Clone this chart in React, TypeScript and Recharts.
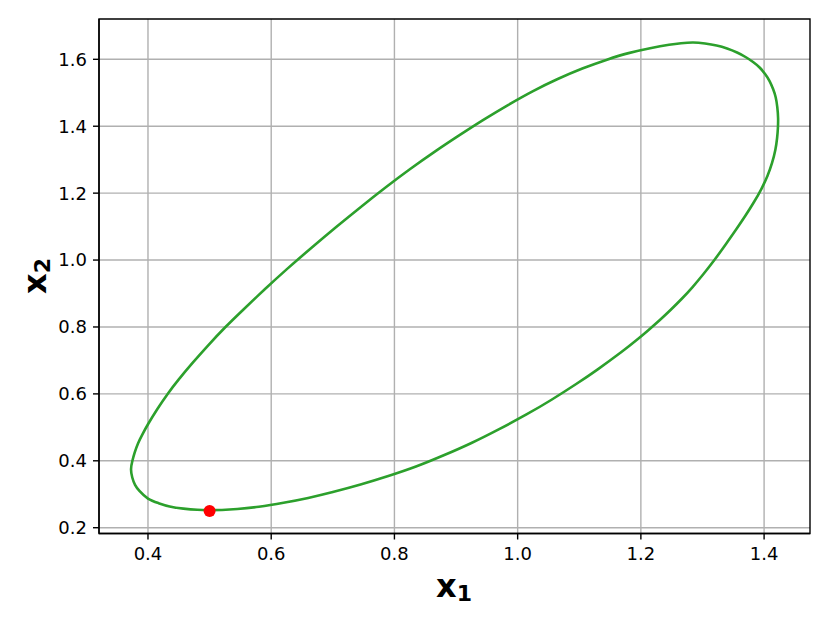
import React from "react";
import {
  ComposedChart,
  Line,
  Scatter,
  XAxis,
  YAxis,
  CartesianGrid,
  ReferenceArea,
} from "recharts";

// Closed level curve (x1, x2), counter-clockwise from the bottom
const curveX = [
  0.5, 0.52, 0.545, 0.58, 0.62, 0.66, 0.7, 0.745, 0.79, 0.835, 0.88, 0.925,
  0.97, 1.015, 1.055, 1.095, 1.13, 1.1684, 1.1921, 1.2116, 1.2308, 1.2481,
  1.266, 1.2839, 1.3016, 1.3193, 1.337, 1.354, 1.3693, 1.3836, 1.3955, 1.4054,
  1.4129, 1.4182, 1.4211, 1.4224, 1.4227, 1.4214, 1.4187, 1.4146, 1.4089,
  1.4016, 1.3927, 1.3821, 1.3699, 1.3561, 1.3399, 1.3229, 1.3042, 1.2847,
  1.2652, 1.2457, 1.215, 1.18, 1.145, 1.105, 1.065, 1.025, 0.985, 0.945, 0.905,
  0.865, 0.825, 0.785, 0.745, 0.705, 0.665, 0.625, 0.59, 0.555, 0.525, 0.497,
  0.472, 0.45, 0.4325, 0.415, 0.4, 0.391, 0.3838, 0.3785, 0.3747, 0.3725,
  0.3745, 0.379, 0.3865, 0.4, 0.417, 0.4352, 0.4575, 0.48, 0.5,
];
const curveY = [
  0.2525, 0.2531, 0.2557, 0.2627, 0.2745, 0.2889, 0.3065, 0.329, 0.3544,
  0.3828, 0.4164, 0.4533, 0.4947, 0.5393, 0.5825, 0.6295, 0.6734, 0.7251,
  0.7595, 0.7897, 0.8208, 0.8507, 0.8836, 0.9194, 0.9583, 1.0001, 1.045, 1.0898,
  1.1316, 1.1735, 1.2123, 1.2512, 1.2901, 1.3289, 1.3648, 1.3947, 1.4246,
  1.4574, 1.4873, 1.5112, 1.5351, 1.5561, 1.5755, 1.5919, 1.6069, 1.6203,
  1.6323, 1.6412, 1.6472, 1.6502, 1.6481, 1.6433, 1.633, 1.6185, 1.599, 1.5725,
  1.541, 1.505, 1.464, 1.4197, 1.3725, 1.3233, 1.2713, 1.2161, 1.1581, 1.0981,
  1.0361, 0.9721, 0.9133, 0.8524, 0.7984, 0.7438, 0.6918, 0.6434, 0.6014,
  0.5542, 0.5092, 0.479, 0.452, 0.425, 0.4, 0.375, 0.35, 0.328, 0.309, 0.287,
  0.2735, 0.2635, 0.257, 0.2535, 0.2525,
];

// Marked point
const pointX = [0.5];
const pointY = [0.25];

const xTicks = [0.4, 0.6, 0.8, 1.0, 1.2, 1.4];
const yTicks = [0.2, 0.4, 0.6, 0.8, 1.0, 1.2, 1.4, 1.6];

const xDomain: [number, number] = [0.3205, 1.4745];
const yDomain: [number, number] = [0.1827, 1.7205];

const curveData = curveX.map((x, i) => ({ x, y: curveY[i] }));
const pointData = pointX.map((x, i) => ({ x, y: pointY[i] }));

const FONT = "'DejaVu Sans', sans-serif";

const XLabel = () => (
  <text
    x={454}
    y={597}
    textAnchor="middle"
    fontFamily={FONT}
    fontWeight="bold"
    fill="#000"
  >
    <tspan fontSize={32}>x</tspan>
    <tspan fontSize={22} dy={4}>
      1
    </tspan>
  </text>
);

const YLabel = () => (
  <text
    x={46}
    y={276}
    transform="rotate(-90, 46, 276)"
    textAnchor="middle"
    fontFamily={FONT}
    fontWeight="bold"
    fill="#000"
  >
    <tspan fontSize={32}>x</tspan>
    <tspan fontSize={22} dy={4}>
      2
    </tspan>
  </text>
);

const RedDot = (props: any) => {
  const { cx, cy } = props;
  return <circle cx={cx} cy={cy} r={6} fill="#ff0000" />;
};

export default function App() {
  return (
    <div style={{ position: "absolute", left: 0, top: 0, background: "#fff" }}>
      <ComposedChart
        width={830}
        height={623}
        margin={{ top: 19, right: 20, left: 0, bottom: 0 }}
      >
        <CartesianGrid
          stroke="#b0b0b0"
          strokeWidth={1.4}
          horizontalValues={yTicks}
          verticalValues={xTicks}
        />
        <XAxis
          type="number"
          dataKey="x"
          domain={xDomain}
          ticks={xTicks}
          allowDataOverflow
          height={89.5}
          tickSize={6}
          tickMargin={8}
          tickFormatter={(v: number) => v.toFixed(1)}
          tick={{ fontSize: 18, fontFamily: FONT, fill: "#000" }}
          tickLine={{ stroke: "#000", strokeWidth: 1.4 }}
          axisLine={{ stroke: "#000", strokeWidth: 1.4 }}
          label={{ content: () => <XLabel /> }}
        />
        <YAxis
          type="number"
          dataKey="y"
          domain={yDomain}
          ticks={yTicks}
          allowDataOverflow
          width={99}
          tickSize={6}
          tickMargin={6}
          tickFormatter={(v: number) => v.toFixed(1)}
          tick={{ fontSize: 18, fontFamily: FONT, fill: "#000" }}
          tickLine={{ stroke: "#000", strokeWidth: 1.4 }}
          axisLine={{ stroke: "#000", strokeWidth: 1.4 }}
          label={{ content: () => <YLabel /> }}
        />
        <Line
          data={curveData}
          dataKey="y"
          type="natural"
          stroke="#2ca02c"
          strokeWidth={2.6}
          dot={false}
          activeDot={false}
          isAnimationActive={false}
        />
        <Scatter
          data={pointData}
          dataKey="y"
          fill="#ff0000"
          shape={<RedDot />}
          isAnimationActive={false}
        />
        <ReferenceArea
          x1={xDomain[0]}
          x2={xDomain[1]}
          y1={yDomain[0]}
          y2={yDomain[1]}
          fill="none"
          fillOpacity={0}
          stroke="#000"
          strokeWidth={1.4}
          ifOverflow="visible"
        />
      </ComposedChart>
    </div>
  );
}
